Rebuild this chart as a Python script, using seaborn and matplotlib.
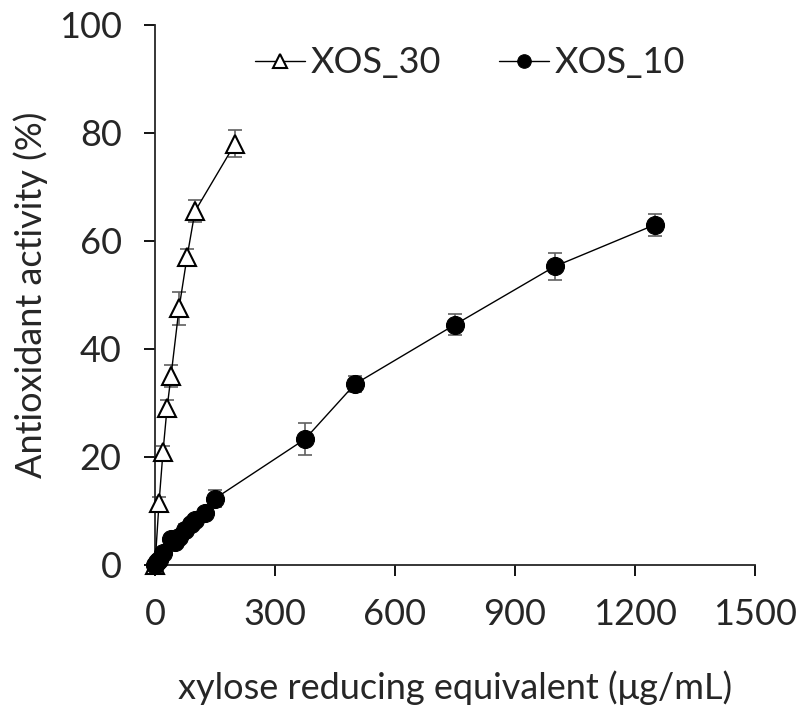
import matplotlib
matplotlib.use("Agg")
import matplotlib.pyplot as plt
import pandas as pd
import seaborn as sns

# XOS_30 series
xos30_x = [0, 10, 20, 30, 40, 60, 80, 100, 200]
xos30_y = [0, 11.5, 21.0, 29.0, 35.0, 47.5, 57.0, 65.5, 78.0]
xos30_err = [0.5, 1.0, 1.0, 1.5, 2.0, 3.0, 1.5, 2.0, 2.5]

# XOS_10 series
xos10_x = [0, 5, 10, 20, 40, 50, 60, 75, 90, 100, 125, 150, 375, 500, 750, 1000, 1250]
xos10_y = [0, 0.5, 1.0, 2.2, 4.8, 4.2, 5.2, 6.5, 7.6, 8.3, 9.6, 12.3, 23.3, 33.5, 44.5, 55.3, 63.0]
xos10_err = [0.5, 0.5, 0.8, 0.8, 1.0, 1.0, 1.0, 1.0, 1.0, 1.0, 1.0, 1.5, 3.0, 1.5, 2.0, 2.5, 2.0]

x_ticks = [0, 300, 600, 900, 1200, 1500]
y_ticks = [0, 20, 40, 60, 80, 100]

sns.set_style("ticks")
plt.rcParams["font.family"] = ["Lato", "DejaVu Sans"]

df30 = pd.DataFrame({"x": xos30_x, "y": xos30_y})
df10 = pd.DataFrame({"x": xos10_x, "y": xos10_y})

fig = plt.figure(figsize=(7.97, 7.08), dpi=100)
ax = fig.add_axes([0.1945, 0.202, 0.7525, 0.7627])

# error bars first, gray
for xs, ys, es in [(xos30_x, xos30_y, xos30_err), (xos10_x, xos10_y, xos10_err)]:
    ax.errorbar(xs, ys, yerr=es, fmt="none", ecolor="#606060", elinewidth=1.2,
                capsize=5, capthick=1.2, zorder=2, clip_on=False)

sns.lineplot(data=df30, x="x", y="y", ax=ax, color="black", linewidth=1,
             marker="^", markersize=13, markerfacecolor="white",
             markeredgecolor="black", markeredgewidth=1.5, sort=False,
             label="XOS_30", zorder=3, clip_on=False)
sns.lineplot(data=df10, x="x", y="y", ax=ax, color="black", linewidth=1,
             marker="o", markersize=13, markerfacecolor="black",
             markeredgecolor="black", sort=False, label="XOS_10", zorder=3,
             clip_on=False)

ax.set_xlim(0, 1500)
ax.set_ylim(0, 100)
ax.set_xticks(x_ticks)
ax.set_yticks(y_ticks)
sns.despine(ax=ax)
ax.spines["left"].set_linewidth(1.3)
ax.spines["bottom"].set_linewidth(1.3)
ax.tick_params(axis="both", labelsize=26, length=8, width=1.3, direction="out",
               pad=16, color="black")
ax.set_xlabel("xylose reducing equivalent (μg/mL)", fontsize=26, labelpad=28)
ax.set_ylabel("Antioxidant activity (%)", fontsize=26, labelpad=8)

leg = ax.legend(loc="center left", bbox_to_anchor=(0.112, 0.93), ncol=2, frameon=False,
                fontsize=26, markerscale=0.75, handlelength=1.4, handletextpad=0.15,
                columnspacing=1.6)

fig.savefig("out.png", dpi=100)
